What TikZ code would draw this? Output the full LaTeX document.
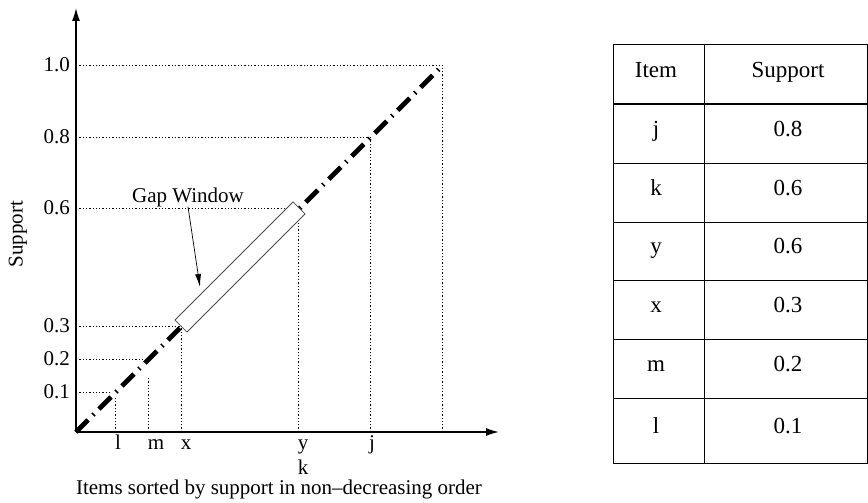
\documentclass[tikz,border=0pt]{standalone}
\usepackage{fontspec}
\setmainfont{Liberation Serif}
\usetikzlibrary{arrows.meta}
\tikzset{
	lbl/.style = {inner sep=0pt, font=\fontsize{21}{24}\selectfont},
	cell/.style = {lbl, text height=1.45ex, text depth=0.3ex},
	tcell/.style = {cell, font=\fontsize{23}{26}\selectfont},
	guide/.style = {line width=0.9pt, dash pattern=on 1.3pt off 2pt},
	axis/.style = {line width=1.3pt, -{Latex[length=13pt, width=8pt]}},
	diagonal/.style = {line width=4.8pt, dash pattern=on 17pt off 7pt on 1.5pt off 7pt},
	gapbox/.style = {draw=black!70, line width=0.8pt, fill=white, inner sep=0pt},
	tablerule/.style = {line width=1pt}
}

\begin{document}
\begin{tikzpicture}[x=1pt, y=-1pt]
	\useasboundingbox (0,0) rectangle (868,503);
	\coordinate (O) at (76,432);
	\coordinate (ytop) at (76,8);
	\coordinate (xend) at (499,432);
	\coordinate (pend) at (442,66);
	% guides: name, level, y, end of horizontal
	\foreach \n/\v/\y/\xe in {a/0.1/392/110, b/0.2/359/144, c/0.3/326/181, d/0.6/208/298, e/0.8/137/370, f/1.0/65/442}
	{
		\node[lbl, anchor=east] (lev\n) at (70,\y) {\v};
		\coordinate (hbeg\n) at (76,\y);
		\coordinate (hend\n) at (\xe,\y);
		\draw[guide] (hbeg\n) -- (hend\n);
	}
	% guides: x, top of vertical, name
	\foreach \x/\yt/\n in {115/397/l, 148/376/m, 181/326/x, 298/208/y, 370/137/j, 442/65/e}
	{
		\coordinate (vbot\n) at (\x,432);
		\coordinate (vtop\n) at (\x,\yt);
		\draw[guide] (vbot\n) -- (vtop\n);
	}
	\foreach \x/\n in {118/l, 156/m, 186/x, 303/y, 372/j}
	{
		\node[cell] (item\n) at (\x,447) {\n};
	}
	\node[cell] (itemk) at (303,472) {k};
	\node[lbl] (xlabel) at (279,489) {Items sorted by support in non--decreasing order};
	\node[lbl, rotate=90] (ylabel) at (18,234) {Support};
	\draw[axis] (O) -- (ytop);
	\draw[axis] (O) -- (xend);
	\draw[diagonal] (O) -- (pend);
	\node[gapbox, rotate=45, minimum width=167pt, minimum height=17pt] (gap) at (240,267) {};
	\node[lbl] (gw) at (188,197) {Gap Window};
	\coordinate (gaptip) at (200,287);
	\draw[line width=0.7pt, -{Latex[length=13pt, width=6pt]}] (gw.south) -- (gaptip);
	% table
	\foreach \r/\itm/\spv/\yt/\yb in {0/Item/Support/45/104, 1/j/0.8/104/163, 2/k/0.6/163/222, 3/y/0.6/222/280, 4/x/0.3/280/339, 5/m/0.2/339/398, 6/l/0.1/398/463}
	{
		\draw[tablerule] (613,\yt) rectangle (704,\yb);
		\draw[tablerule] (704,\yt) rectangle (867,\yb);
		\node[tcell] (titem\r) at (656,{(\yt+\yb)/2}) {\itm};
		\node[tcell] (tsupp\r) at (788,{(\yt+\yb)/2}) {\spv};
	}
\end{tikzpicture}
\end{document}
